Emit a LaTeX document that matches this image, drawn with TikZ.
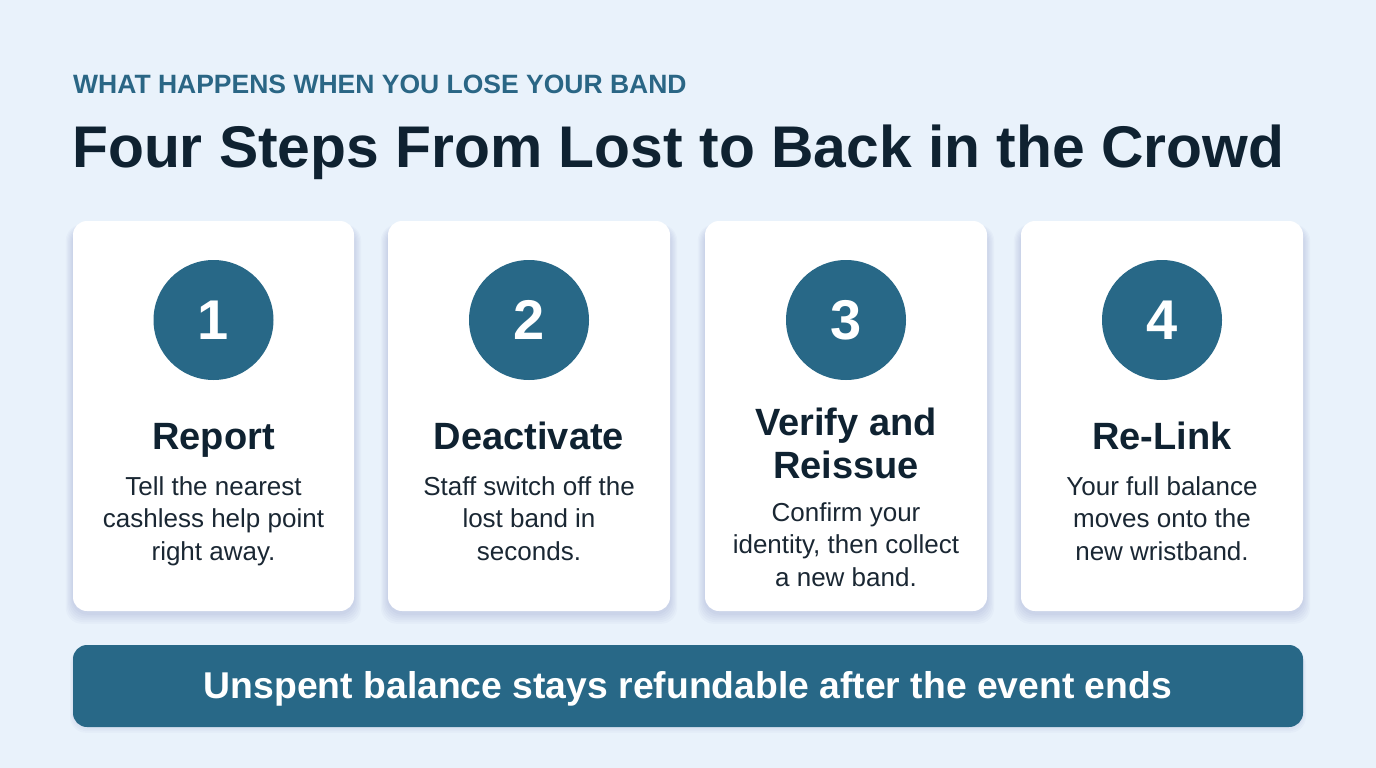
\documentclass[tikz,border=0pt]{standalone}
\usepackage{fontspec}
\setmainfont{Liberation Sans}
\usetikzlibrary{calc}
\definecolor{bgc}{HTML}{E9F2FB}
\definecolor{teal}{HTML}{286887}
\definecolor{subc}{HTML}{2A6685}
\definecolor{ink}{HTML}{0F2231}
\definecolor{bodyc}{HTML}{1A2733}
\tikzset{
  card/.style={fill=white, rounded corners=14pt},
  shadowbox/.style={fill=black!50!blue, rounded corners=16pt, opacity=0.018},
  numcirc/.style={circle, fill=teal, minimum size=120pt, inner sep=0pt, text=white, font=\bfseries\fontsize{56}{56}\selectfont},
  cardtitle/.style={anchor=base, align=center, text=ink, font=\bfseries\fontsize{38}{43}\selectfont, inner sep=0pt},
  cardbody/.style={anchor=base, align=center, text=bodyc, font=\fontsize{26}{32.5}\selectfont, inner sep=0pt},
}
\begin{document}
\begin{tikzpicture}[x=1pt,y=-1pt]
\fill[bgc] (0,0) rectangle (1376,768);
\useasboundingbox (0,0) rectangle (1376,768);

\node[anchor=base west, inner sep=0pt, text=subc, font=\bfseries\fontsize{26.5}{26.5}\selectfont] (sub) at (73,93) {WHAT HAPPENS WHEN YOU LOSE YOUR BAND};
\node[anchor=base west, inner sep=0pt, text=ink, font=\bfseries\fontsize{58.8}{60}\selectfont] (title) at (72,167) {Four Steps From Lost to Back in the Crowd};

% cards
\foreach \xl/\xr in {73/354, 388/670, 705/987, 1021/1303}{
  \foreach \s in {2,4,6,8,10,12}{
    \fill[shadowbox] (\xl-\s*0.6,221-\s*0.2+6) rectangle (\xr+\s*0.6,611+\s*0.9+2);
  }
  \fill[card] (\xl,221) rectangle (\xr,611);
}

\node[numcirc] (c1) at (213.5,320) {1};
\node[numcirc] (c2) at (529,320) {2};
\node[numcirc] (c3) at (846,320) {3};
\node[numcirc] (c4) at (1162,320) {4};

\node[cardtitle] (t1) at (213.5,449) {Report};
\node[cardtitle] (t2) at (529,449) {Deactivate};
\node[cardtitle] (t3) at (846,478) {Verify and\\Reissue};
\node[cardtitle] (t4) at (1162,449) {Re-Link};

\node[cardbody] (b1) at (213.5,560) {Tell the nearest\\cashless help point\\right away.};
\node[cardbody] (b2) at (529,560) {Staff switch off the\\lost band in\\seconds.};
\node[cardbody] (b3) at (846,586) {Confirm your\\identity, then collect\\a new band.};
\node[cardbody] (b4) at (1162,560) {Your full balance\\moves onto the\\new wristband.};

% banner
\foreach \s in {2,4,6}{
  \fill[shadowbox] (73-\s*0.5,645+3) rectangle (1303+\s*0.5,727+\s*0.8+1);
}
\fill[teal, rounded corners=14pt] (73,645) rectangle (1303,727);
\node[anchor=base, inner sep=0pt, text=white, font=\bfseries\fontsize{37.3}{37}\selectfont] (banner) at (688,698) {Unspent balance stays refundable after the event ends};
\end{tikzpicture}
\end{document}
